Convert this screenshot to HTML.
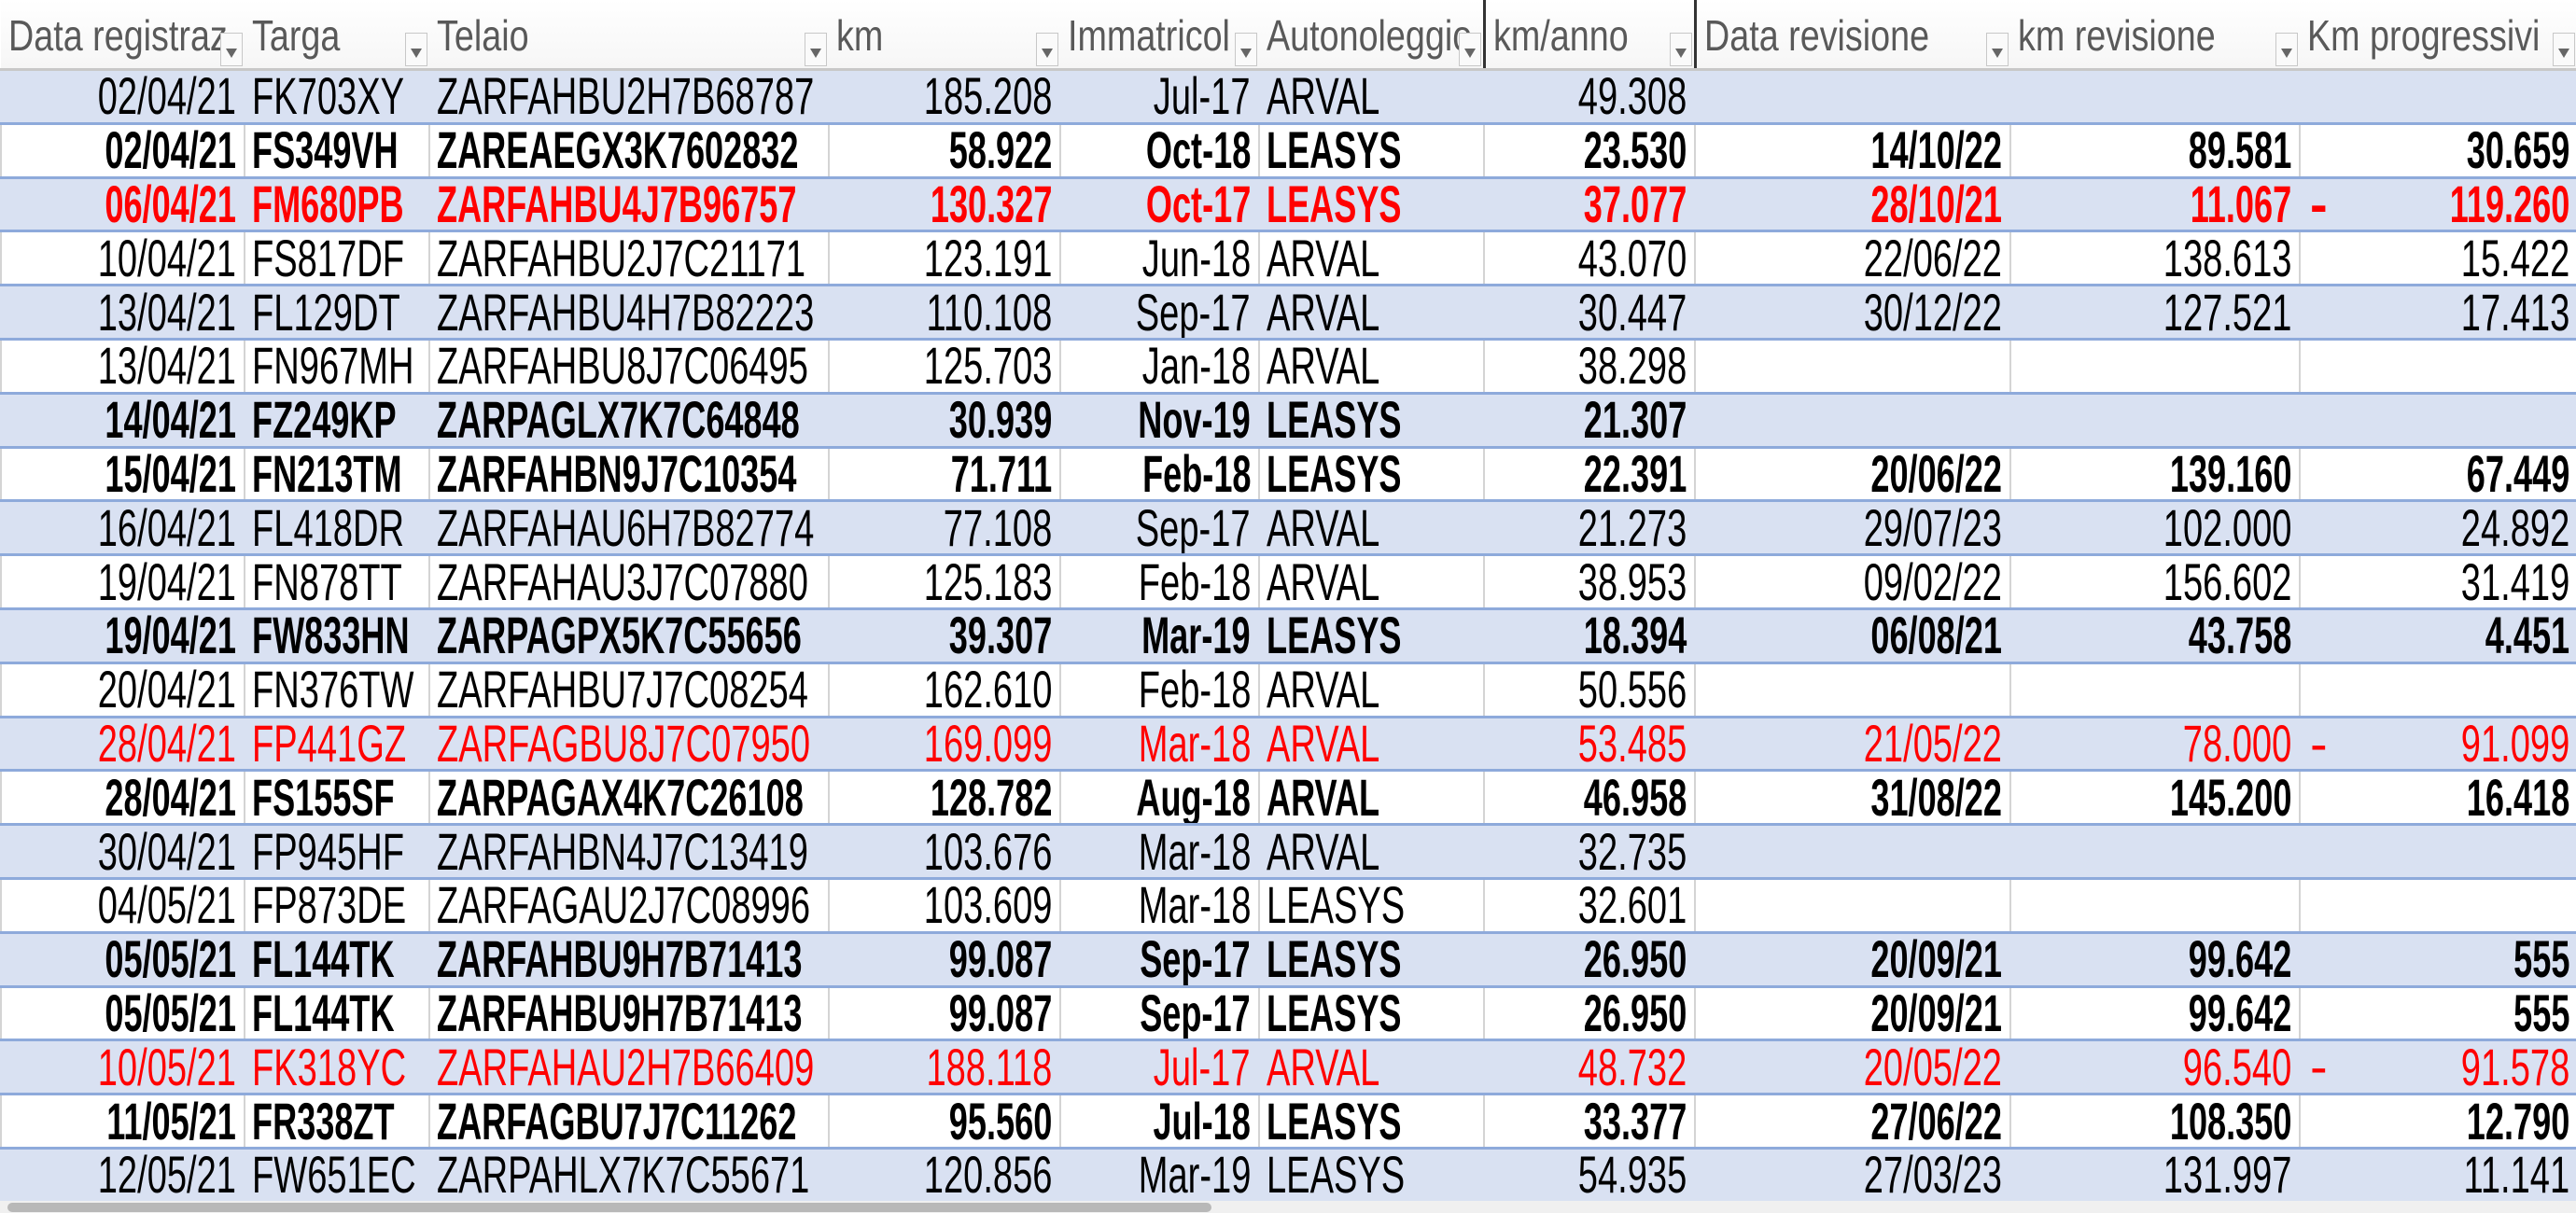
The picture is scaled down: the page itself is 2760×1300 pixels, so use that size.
<!DOCTYPE html>
<html><head><meta charset="utf-8"><style>
body{margin:0;width:2760px;height:1300px;overflow:hidden;background:#fff;font-family:"Liberation Sans",Arial,sans-serif;}
table{position:absolute;left:0;top:0;border-collapse:collapse;table-layout:fixed;width:2760px;}
td,th{padding:0;overflow:hidden;white-space:nowrap;}
th{height:73px;font-weight:normal;color:#595959;font-size:46px;line-height:60px;text-align:left;vertical-align:top;position:relative;border-bottom:3px solid #c8c8c8;background:linear-gradient(#fff,#f6f6f6);}
th i{display:inline-block;font-style:normal;transform:scaleX(.82);transform-origin:left;margin:8px 0 0 8px;}
th b{position:absolute;right:2px;bottom:2px;width:22px;height:34px;border:1px solid #c8c8c8;background:#fafafa;}
th b:after{content:"";position:absolute;left:5px;top:16px;border-left:6px solid transparent;border-right:6px solid transparent;border-top:10px solid #666;}
th.dk{border-left:3px solid #333;}
td{height:54.8px;font-size:56px;line-height:54px;border-bottom:3px solid #8eaadb;border-left:2px solid #d4d4d4;}
tr.a td{background:#d9e1f2;border-left-color:#d9e1f2;}
tr.b td{font-weight:bold;}
tr.r td{color:#f00;}
td i{display:inline-block;font-style:normal;transform:scaleX(.68);}
tr.b td i{transform:scaleX(.645);}
td.R{text-align:right;}
td.R i{transform-origin:right;margin-right:8px;}
td.L i{transform-origin:left;margin-left:7px;}
td.n{position:relative;}
td.n:before{content:"-";position:absolute;left:10px;top:0;}
.sb{position:absolute;left:0;top:1287px;width:2760px;height:13px;background:#f0f0f0;}
.sb div{position:absolute;left:8px;top:2px;width:1290px;height:10px;border-radius:5px;background:#b8b8b8;}
</style></head><body>
<table>
<colgroup><col style="width:261px"><col style="width:198px"><col style="width:428px"><col style="width:248px"><col style="width:213px"><col style="width:241px"><col style="width:226px"><col style="width:338px"><col style="width:310px"><col style="width:297px"></colgroup>
<tr><th><i>Data registraz</i><b></b></th><th><i>Targa</i><b></b></th><th><i>Telaio</i><b></b></th><th><i>km</i><b></b></th><th><i>Immatricol</i><b></b></th><th><i>Autonoleggio</i><b></b></th><th class="dk"><i>km/anno</i><b></b></th><th class="dk"><i>Data revisione</i><b></b></th><th><i>km revisione</i><b></b></th><th><i>Km progressivi</i><b></b></th></tr>
<tr class="a"><td class="R"><i>02/04/21</i></td><td class="L"><i>FK703XY</i></td><td class="L"><i>ZARFAHBU2H7B68787</i></td><td class="R"><i>185.208</i></td><td class="R"><i>Jul-17</i></td><td class="L"><i>ARVAL</i></td><td class="R"><i>49.308</i></td><td></td><td></td><td></td></tr>
<tr class="b"><td class="R"><i>02/04/21</i></td><td class="L"><i>FS349VH</i></td><td class="L"><i>ZAREAEGX3K7602832</i></td><td class="R"><i>58.922</i></td><td class="R"><i>Oct-18</i></td><td class="L"><i>LEASYS</i></td><td class="R"><i>23.530</i></td><td class="R"><i>14/10/22</i></td><td class="R"><i>89.581</i></td><td class="R"><i>30.659</i></td></tr>
<tr class="a b r"><td class="R"><i>06/04/21</i></td><td class="L"><i>FM680PB</i></td><td class="L"><i>ZARFAHBU4J7B96757</i></td><td class="R"><i>130.327</i></td><td class="R"><i>Oct-17</i></td><td class="L"><i>LEASYS</i></td><td class="R"><i>37.077</i></td><td class="R"><i>28/10/21</i></td><td class="R"><i>11.067</i></td><td class="R n"><i>119.260</i></td></tr>
<tr><td class="R"><i>10/04/21</i></td><td class="L"><i>FS817DF</i></td><td class="L"><i>ZARFAHBU2J7C21171</i></td><td class="R"><i>123.191</i></td><td class="R"><i>Jun-18</i></td><td class="L"><i>ARVAL</i></td><td class="R"><i>43.070</i></td><td class="R"><i>22/06/22</i></td><td class="R"><i>138.613</i></td><td class="R"><i>15.422</i></td></tr>
<tr class="a"><td class="R"><i>13/04/21</i></td><td class="L"><i>FL129DT</i></td><td class="L"><i>ZARFAHBU4H7B82223</i></td><td class="R"><i>110.108</i></td><td class="R"><i>Sep-17</i></td><td class="L"><i>ARVAL</i></td><td class="R"><i>30.447</i></td><td class="R"><i>30/12/22</i></td><td class="R"><i>127.521</i></td><td class="R"><i>17.413</i></td></tr>
<tr><td class="R"><i>13/04/21</i></td><td class="L"><i>FN967MH</i></td><td class="L"><i>ZARFAHBU8J7C06495</i></td><td class="R"><i>125.703</i></td><td class="R"><i>Jan-18</i></td><td class="L"><i>ARVAL</i></td><td class="R"><i>38.298</i></td><td></td><td></td><td></td></tr>
<tr class="a b"><td class="R"><i>14/04/21</i></td><td class="L"><i>FZ249KP</i></td><td class="L"><i>ZARPAGLX7K7C64848</i></td><td class="R"><i>30.939</i></td><td class="R"><i>Nov-19</i></td><td class="L"><i>LEASYS</i></td><td class="R"><i>21.307</i></td><td></td><td></td><td></td></tr>
<tr class="b"><td class="R"><i>15/04/21</i></td><td class="L"><i>FN213TM</i></td><td class="L"><i>ZARFAHBN9J7C10354</i></td><td class="R"><i>71.711</i></td><td class="R"><i>Feb-18</i></td><td class="L"><i>LEASYS</i></td><td class="R"><i>22.391</i></td><td class="R"><i>20/06/22</i></td><td class="R"><i>139.160</i></td><td class="R"><i>67.449</i></td></tr>
<tr class="a"><td class="R"><i>16/04/21</i></td><td class="L"><i>FL418DR</i></td><td class="L"><i>ZARFAHAU6H7B82774</i></td><td class="R"><i>77.108</i></td><td class="R"><i>Sep-17</i></td><td class="L"><i>ARVAL</i></td><td class="R"><i>21.273</i></td><td class="R"><i>29/07/23</i></td><td class="R"><i>102.000</i></td><td class="R"><i>24.892</i></td></tr>
<tr><td class="R"><i>19/04/21</i></td><td class="L"><i>FN878TT</i></td><td class="L"><i>ZARFAHAU3J7C07880</i></td><td class="R"><i>125.183</i></td><td class="R"><i>Feb-18</i></td><td class="L"><i>ARVAL</i></td><td class="R"><i>38.953</i></td><td class="R"><i>09/02/22</i></td><td class="R"><i>156.602</i></td><td class="R"><i>31.419</i></td></tr>
<tr class="a b"><td class="R"><i>19/04/21</i></td><td class="L"><i>FW833HN</i></td><td class="L"><i>ZARPAGPX5K7C55656</i></td><td class="R"><i>39.307</i></td><td class="R"><i>Mar-19</i></td><td class="L"><i>LEASYS</i></td><td class="R"><i>18.394</i></td><td class="R"><i>06/08/21</i></td><td class="R"><i>43.758</i></td><td class="R"><i>4.451</i></td></tr>
<tr><td class="R"><i>20/04/21</i></td><td class="L"><i>FN376TW</i></td><td class="L"><i>ZARFAHBU7J7C08254</i></td><td class="R"><i>162.610</i></td><td class="R"><i>Feb-18</i></td><td class="L"><i>ARVAL</i></td><td class="R"><i>50.556</i></td><td></td><td></td><td></td></tr>
<tr class="a r"><td class="R"><i>28/04/21</i></td><td class="L"><i>FP441GZ</i></td><td class="L"><i>ZARFAGBU8J7C07950</i></td><td class="R"><i>169.099</i></td><td class="R"><i>Mar-18</i></td><td class="L"><i>ARVAL</i></td><td class="R"><i>53.485</i></td><td class="R"><i>21/05/22</i></td><td class="R"><i>78.000</i></td><td class="R n"><i>91.099</i></td></tr>
<tr class="b"><td class="R"><i>28/04/21</i></td><td class="L"><i>FS155SF</i></td><td class="L"><i>ZARPAGAX4K7C26108</i></td><td class="R"><i>128.782</i></td><td class="R"><i>Aug-18</i></td><td class="L"><i>ARVAL</i></td><td class="R"><i>46.958</i></td><td class="R"><i>31/08/22</i></td><td class="R"><i>145.200</i></td><td class="R"><i>16.418</i></td></tr>
<tr class="a"><td class="R"><i>30/04/21</i></td><td class="L"><i>FP945HF</i></td><td class="L"><i>ZARFAHBN4J7C13419</i></td><td class="R"><i>103.676</i></td><td class="R"><i>Mar-18</i></td><td class="L"><i>ARVAL</i></td><td class="R"><i>32.735</i></td><td></td><td></td><td></td></tr>
<tr><td class="R"><i>04/05/21</i></td><td class="L"><i>FP873DE</i></td><td class="L"><i>ZARFAGAU2J7C08996</i></td><td class="R"><i>103.609</i></td><td class="R"><i>Mar-18</i></td><td class="L"><i>LEASYS</i></td><td class="R"><i>32.601</i></td><td></td><td></td><td></td></tr>
<tr class="a b"><td class="R"><i>05/05/21</i></td><td class="L"><i>FL144TK</i></td><td class="L"><i>ZARFAHBU9H7B71413</i></td><td class="R"><i>99.087</i></td><td class="R"><i>Sep-17</i></td><td class="L"><i>LEASYS</i></td><td class="R"><i>26.950</i></td><td class="R"><i>20/09/21</i></td><td class="R"><i>99.642</i></td><td class="R"><i>555</i></td></tr>
<tr class="b"><td class="R"><i>05/05/21</i></td><td class="L"><i>FL144TK</i></td><td class="L"><i>ZARFAHBU9H7B71413</i></td><td class="R"><i>99.087</i></td><td class="R"><i>Sep-17</i></td><td class="L"><i>LEASYS</i></td><td class="R"><i>26.950</i></td><td class="R"><i>20/09/21</i></td><td class="R"><i>99.642</i></td><td class="R"><i>555</i></td></tr>
<tr class="a r"><td class="R"><i>10/05/21</i></td><td class="L"><i>FK318YC</i></td><td class="L"><i>ZARFAHAU2H7B66409</i></td><td class="R"><i>188.118</i></td><td class="R"><i>Jul-17</i></td><td class="L"><i>ARVAL</i></td><td class="R"><i>48.732</i></td><td class="R"><i>20/05/22</i></td><td class="R"><i>96.540</i></td><td class="R n"><i>91.578</i></td></tr>
<tr class="b"><td class="R"><i>11/05/21</i></td><td class="L"><i>FR338ZT</i></td><td class="L"><i>ZARFAGBU7J7C11262</i></td><td class="R"><i>95.560</i></td><td class="R"><i>Jul-18</i></td><td class="L"><i>LEASYS</i></td><td class="R"><i>33.377</i></td><td class="R"><i>27/06/22</i></td><td class="R"><i>108.350</i></td><td class="R"><i>12.790</i></td></tr>
<tr class="a"><td class="R"><i>12/05/21</i></td><td class="L"><i>FW651EC</i></td><td class="L"><i>ZARPAHLX7K7C55671</i></td><td class="R"><i>120.856</i></td><td class="R"><i>Mar-19</i></td><td class="L"><i>LEASYS</i></td><td class="R"><i>54.935</i></td><td class="R"><i>27/03/23</i></td><td class="R"><i>131.997</i></td><td class="R"><i>11.141</i></td></tr>
</table>
<div class="sb"><div></div></div>
</body></html>
